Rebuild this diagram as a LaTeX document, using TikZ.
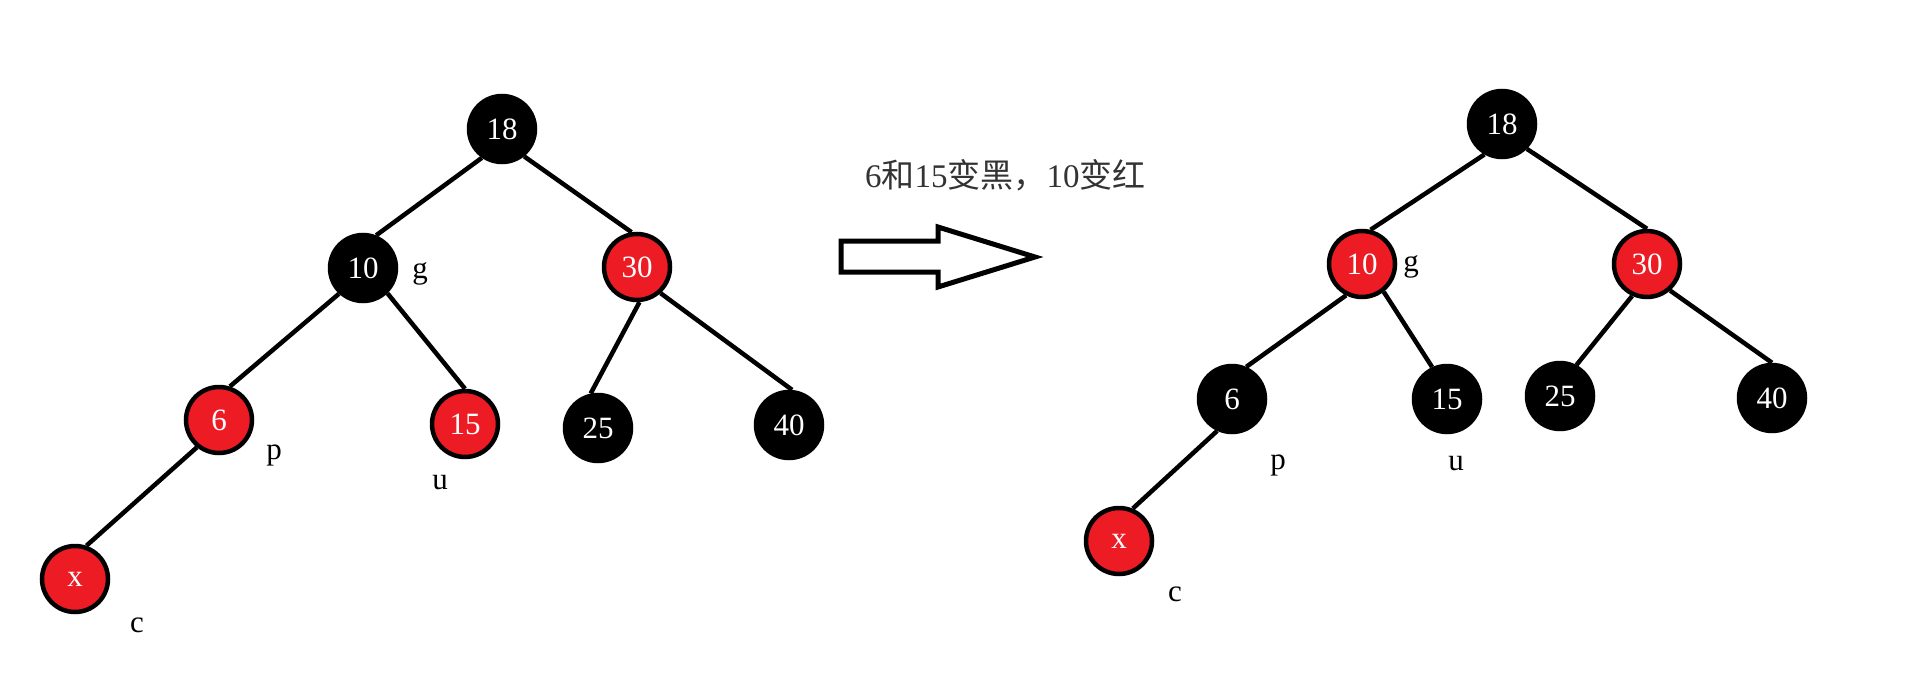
\documentclass[tikz,border=0pt]{standalone}
\usepackage{fontspec}
\setmainfont{Liberation Serif}
\newfontfamily\cjk{Noto Sans CJK SC}
\definecolor{rbred}{HTML}{ED1C24}
\begin{document}
\begin{tikzpicture}[x=1pt,y=-1pt,
  rb/.style={circle,minimum size=66pt,inner sep=0pt,line width=4.5pt,draw=black,font=\fontsize{31}{31}\selectfont,text=white},
  bnode/.style={rb,fill=black},
  rnode/.style={rb,fill=rbred},
  lbl/.style={inner sep=0pt,font=\fontsize{31}{31}\selectfont},
  edge/.style={line width=4.5pt}
]
\useasboundingbox (0,0) rectangle (1931,677);
\fill[white] (0,0) rectangle (1931,677);
% left tree
\node[bnode] (a18) at (502,129) {18};
\node[bnode] (a10) at (363,268) {10};
\node[rnode] (a30) at (637,267) {30};
\node[rnode] (a6)  at (219,420) {6};
\node[rnode] (a15) at (465,424) {15};
\node[bnode] (a25) at (598,428) {25};
\node[bnode] (a40) at (789,425) {40};
\node[rnode] (ax)  at (75,579) {x};
\draw[edge] (a18.235) -- (a10.68);
\draw[edge] (a18.309) -- (a30.99);
\draw[edge] (a10.227) -- (a6.72);
\draw[edge] (a10.314) -- (a15.90);
\draw[edge] (a30.274) -- (a25.102);
\draw[edge] (a30.312) -- (a40.85);
\draw[edge] (a6.231) -- (ax.71);
\node[lbl] (ag) at (420,274) {g};
\node[lbl] (ap) at (274,455) {p};
\node[lbl] (au) at (440,483) {u};
\node[lbl] (ac) at (137,625) {c};
% caption and arrow
\node[anchor=base west,inner sep=0pt,text=black!80,font=\fontsize{33}{33}\selectfont] (cap) at (865,187) {6{\cjk 和}15{\cjk 变黑，}10{\cjk 变红}};
\draw[line width=5pt,line join=miter] (841,241) -- (938,241) -- (938,227) -- (1035,257) -- (938,287) -- (938,272) -- (841,272) -- cycle;
% right tree
\node[bnode] (b18) at (1502,124) {18};
\node[rnode] (b10) at (1362,264) {10};
\node[rnode] (b30) at (1647,264) {30};
\node[bnode] (b6)  at (1232,399) {6};
\node[bnode] (b15) at (1447,399) {15};
\node[bnode] (b25) at (1560,396) {25};
\node[bnode] (b40) at (1772,398) {40};
\node[rnode] (bx)  at (1119,541) {x};
\draw[edge] (b18.240) -- (b10.76);
\draw[edge] (b18.315) -- (b30.90);
\draw[edge] (b10.243) -- (b6.66);
\draw[edge] (b10.308) -- (b15.115);
\draw[edge] (b30.245) -- (b25.62);
\draw[edge] (b30.311) -- (b40.90);
\draw[edge] (b6.245) -- (bx.67);
\node[lbl] (bg) at (1411,267) {g};
\node[lbl] (bp) at (1278,465) {p};
\node[lbl] (bu) at (1456,464) {u};
\node[lbl] (bc) at (1175,594) {c};
\end{tikzpicture}
\end{document}
